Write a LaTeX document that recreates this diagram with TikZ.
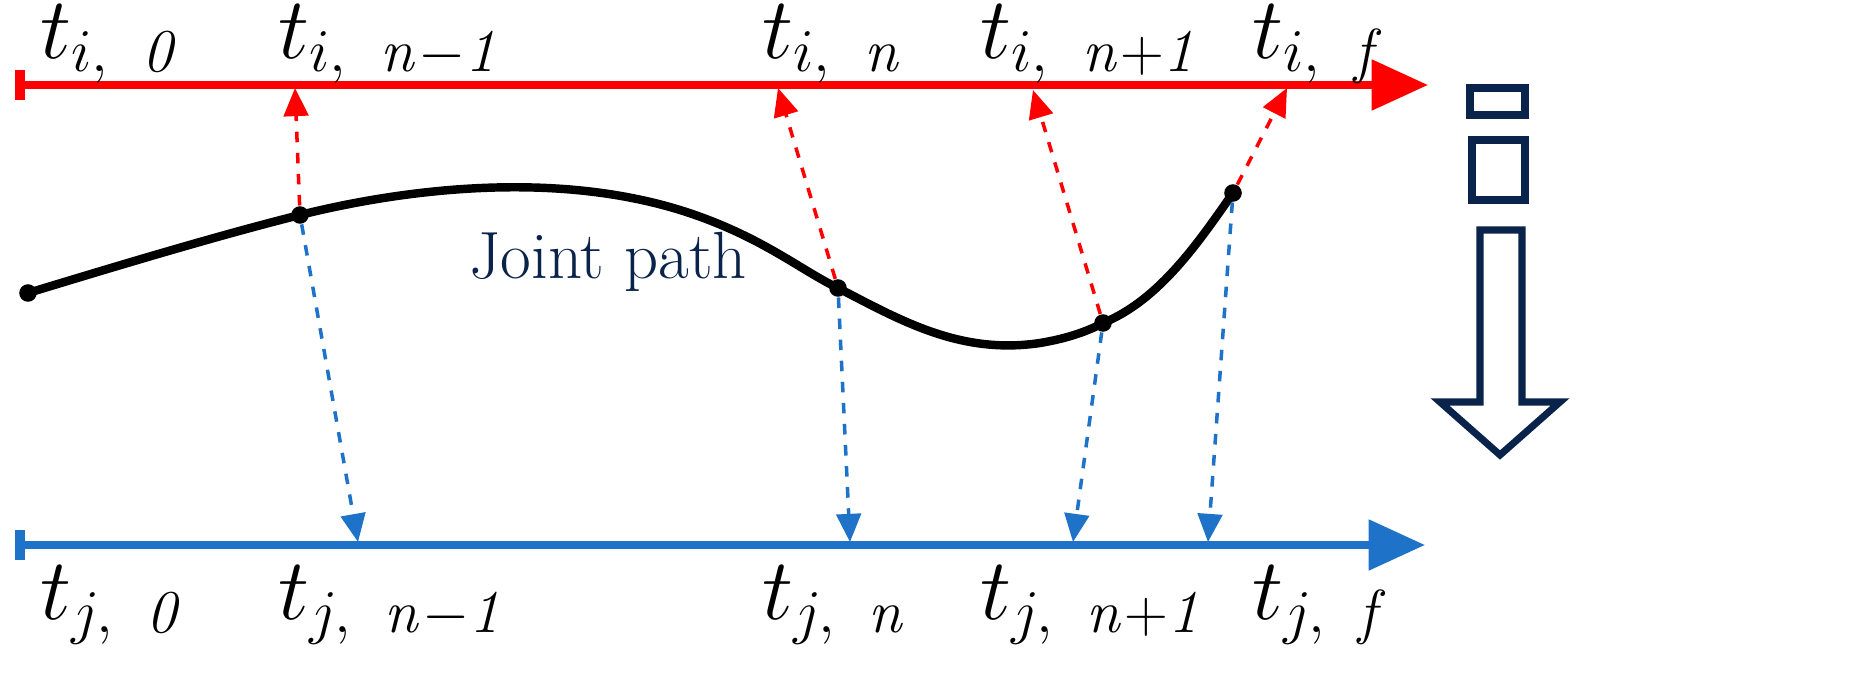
\documentclass[tikz,border=0pt]{standalone}
\usetikzlibrary{arrows.meta}
\begin{document}
\begin{tikzpicture}[x=0.01cm,y=-0.01cm,
  ax/.style={line width=2.2pt,-{Triangle[length=16pt,width=14pt]}},
  rd/.style={red,dashed,line width=1pt,-{Triangle[length=8pt,width=7pt]}},
  bd/.style={dashed,line width=1pt,-{Triangle[length=8pt,width=7pt]}},
  lab/.style={font=\fontsize{27}{29}\selectfont,anchor=west,inner sep=0},
  pt/.style={circle,fill=black,inner sep=0,minimum size=5pt}]
\useasboundingbox (0,0) rectangle (1872,685);
\definecolor{bl}{RGB}{30,115,200}
\definecolor{nv}{RGB}{10,35,75}
\newcommand{\tl}[2]{$t_{#1,\;\;\mathit{#2}}$}
% axes
\coordinate (r0) at (20,85); \coordinate (r1) at (1428,85);
\coordinate (b0) at (20,545); \coordinate (b1) at (1425,545);
\draw[red,ax] (r0) -- (r1);
\draw[red,line width=3pt] (20,70) -- (20,100);
\draw[bl,ax] (b0) -- (b1);
\draw[bl,line width=3pt] (20,530) -- (20,560);
% curve
\node[pt] (p0) at (28,293) {};
\node[pt] (p1) at (300,215) {};
\node[pt] (p2) at (838,288) {};
\node[pt] (p3) at (1103,323) {};
\node[pt] (p4) at (1233,193) {};
\draw[line width=2.4pt] (p0.center) .. controls (120,265) and (220,235) .. (p1.center)
  .. controls (400,190) and (550,170) .. (680,210)
  .. controls (760,235) and (800,270) .. (p2.center)
  .. controls (900,320) and (960,355) .. (1040,343)
  .. controls (1070,338) and (1090,330) .. (p3.center)
  .. controls (1160,300) and (1200,240) .. (p4.center);
\node[text=nv,font=\fontsize{19}{21}\selectfont] (jp) at (608,262) {Joint path};
% targets
\coordinate (ri1) at (295,88); \coordinate (ri2) at (778,88);
\coordinate (ri3) at (1033,90); \coordinate (ri4) at (1287,88);
\coordinate (bj1) at (358,542); \coordinate (bj2) at (850,542);
\coordinate (bj3) at (1073,542); \coordinate (bj4) at (1208,542);
\draw[rd] (p1) -- (ri1); \draw[rd] (p2) -- (ri2); \draw[rd] (p3) -- (ri3); \draw[rd] (p4) -- (ri4);
\draw[bd,bl] (p1) -- (bj1); \draw[bd,bl] (p2) -- (bj2); \draw[bd,bl] (p3) -- (bj3); \draw[bd,bl] (p4) -- (bj4);
% labels
\node[lab] (l1) at (40,44) {\tl{i}{0}};
\node[lab] (l2) at (278,44) {\tl{i}{n-1}};
\node[lab] (l3) at (762,44) {\tl{i}{n}};
\node[lab] (l4) at (980,44) {\tl{i}{n+1}};
\node[lab] (l5) at (1252,44) {\tl{i}{f}};
\node[lab] (m1) at (40,605) {\tl{j}{0}};
\node[lab] (m2) at (278,605) {\tl{j}{n-1}};
\node[lab] (m3) at (762,605) {\tl{j}{n}};
\node[lab] (m4) at (980,605) {\tl{j}{n+1}};
\node[lab] (m5) at (1252,605) {\tl{j}{f}};
% icon
\draw[draw=nv,line width=2pt] (1470,88) rectangle (1525,115);
\draw[draw=nv,line width=2pt] (1472,140) rectangle (1525,200);
\draw[draw=nv,line width=2pt] (1480,230) -- (1522,230) -- (1522,402) -- (1560,402) -- (1500,455) -- (1440,402) -- (1480,402) -- cycle;
\end{tikzpicture}
\end{document}
